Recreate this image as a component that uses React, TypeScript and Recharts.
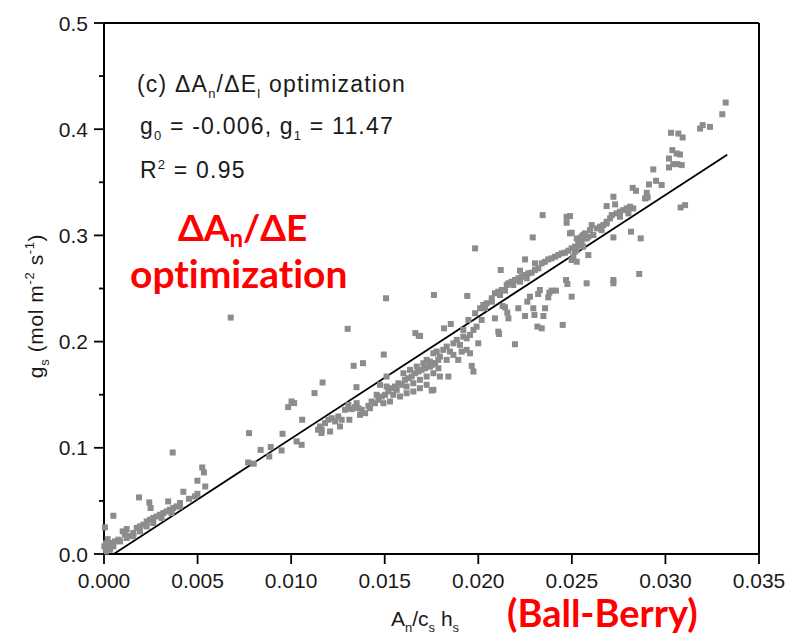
import React from 'react';
import { ScatterChart, Scatter, XAxis, YAxis, ReferenceLine } from 'recharts';

// axis ticks
const xTicks = [0, 0.005, 0.01, 0.015, 0.02, 0.025, 0.03, 0.035];
const yTicks = [0, 0.05, 0.1, 0.15, 0.2, 0.25, 0.3, 0.35, 0.4, 0.45, 0.5];

// fitted line gs = g0 + g1 * An/(cs hs)
const G0 = -0.006;
const G1 = 11.47;
const FIT_X_END = 0.0333;

const lowBand: [number, number][] = [
  [0.00023, 0.0072], [0.00041, 0.0104], [0.00059, 0.0119], [0.00077, 0.0135], [0.001, 0.0213],
  [0.00121, 0.0235], [0.00112, 0.0182], [0.00139, 0.0172], [0.00157, 0.0198], [0.00175, 0.0245],
  [0.00192, 0.026], [0.0021, 0.0276], [0.00228, 0.0307], [0.00246, 0.0323], [0.00263, 0.0339],
  [0.00281, 0.0354], [0.00299, 0.037], [0.00317, 0.0386], [0.00335, 0.0401], [0.00352, 0.0417],
  [0.0037, 0.0433], [0.00388, 0.0448], [0.00406, 0.0448], [0.00361, 0.0386], [0.00308, 0.0339],
  [0.00263, 0.0292], [0.00228, 0.026], [0.00192, 0.0213], [0.00157, 0.0166], [0.00121, 0.0151],
  [0.00086, 0.0119], [0.0005, 0.0072], [0.00032, 0.004], [0.00011, 0.0024], [0.00002, 0.0072],
  [0.0002, 0.014], [0.0001, 0.01],
];

const lowScatter: [number, number][] = [
  [0.00775, 0.1138], [0.00837, 0.098], [0.00891, 0.1007], [0.00883, 0.0918], [0.0077, 0.0862],
  [0.008, 0.085], [0.00367, 0.0956], [0.00525, 0.0815], [0.00534, 0.0768], [0.00499, 0.069],
  [0.00541, 0.0636], [0.00424, 0.0586], [0.00454, 0.052], [0.00486, 0.0542], [0.00499, 0.0567],
  [0.00187, 0.0533], [0.00242, 0.0486], [0.00249, 0.0433], [0.00343, 0.0495], [0.00406, 0.048],
  [0.0005, 0.036], [0.00005, 0.025],
];

const midScatter: [number, number][] = [
  [0.01302, 0.212], [0.01664, 0.208], [0.01682, 0.2054], [0.01495, 0.1878], [0.01334, 0.1772],
  [0.01384, 0.1797], [0.01168, 0.1615], [0.01125, 0.1515], [0.01349, 0.1571], [0.01002, 0.1436],
  [0.00984, 0.1383], [0.01016, 0.1421], [0.01059, 0.1264], [0.00954, 0.1132], [0.00949, 0.0975],
  [0.01029, 0.106], [0.01056, 0.1028], [0.01144, 0.117], [0.01162, 0.1139], [0.00677, 0.2226],
  [0.01507, 0.2408], [0.01751, 0.1539],
];

const midBand: [number, number][] = [
  [0.01154, 0.1201], [0.01181, 0.1232], [0.01199, 0.1264], [0.01217, 0.1279], [0.01235, 0.1248],
  [0.01252, 0.1295], [0.0127, 0.1264], [0.01288, 0.1358], [0.01306, 0.1373], [0.01324, 0.1364],
  [0.01341, 0.1383], [0.01359, 0.1373], [0.01377, 0.1358], [0.01395, 0.1326], [0.01413, 0.1395],
  [0.0143, 0.1436], [0.01448, 0.142], [0.01466, 0.1452], [0.01484, 0.1483], [0.01502, 0.1499],
  [0.01519, 0.153], [0.01537, 0.1561], [0.01555, 0.1577], [0.01573, 0.1608], [0.01591, 0.1593],
  [0.01608, 0.164], [0.01626, 0.1655], [0.01644, 0.1671], [0.01662, 0.1702], [0.0168, 0.1718],
  [0.01697, 0.1734], [0.01715, 0.1749], [0.01733, 0.1765], [0.01751, 0.1781], [0.01769, 0.1796],
  [0.01786, 0.1828], [0.01457, 0.1499], [0.0151, 0.1577], [0.01564, 0.1546], [0.01617, 0.1577],
  [0.01653, 0.1608], [0.01688, 0.164], [0.01724, 0.1671], [0.0176, 0.1702], [0.016, 0.1702],
  [0.01635, 0.1734], [0.01671, 0.1765], [0.01706, 0.1796], [0.01742, 0.1812], [0.01582, 0.1483],
  [0.01617, 0.1514], [0.01653, 0.153], [0.01688, 0.1561], [0.01724, 0.1593], [0.0176, 0.1546],
  [0.01528, 0.1436], [0.01493, 0.142], [0.01421, 0.1373], [0.01368, 0.131], [0.01311, 0.1264],
  [0.01261, 0.1201], [0.01208, 0.1154], [0.01163, 0.117], [0.01306, 0.1405], [0.0135, 0.142],
  [0.0151, 0.1671], [0.01546, 0.1499], [0.01475, 0.1593],
];

const upperScatter: [number, number][] = [
  [0.02472, 0.3119], [0.02291, 0.2981], [0.02499, 0.3025], [0.01983, 0.2878], [0.0225, 0.2774],
  [0.02303, 0.2737], [0.0212, 0.2674], [0.02223, 0.2668], [0.01763, 0.2439], [0.01941, 0.243],
  [0.02579, 0.2549], [0.02499, 0.2423], [0.02469, 0.258], [0.02476, 0.2542], [0.02415, 0.248],
  [0.02451, 0.2157], [0.02339, 0.2125], [0.02316, 0.2141], [0.02196, 0.1975], [0.02107, 0.2094],
  [0.02111, 0.2072], [0.01965, 0.1771], [0.01974, 0.1718], [0.0184, 0.1671], [0.01817, 0.2125],
  [0.01853, 0.2166], [0.01689, 0.2053], [0.02089, 0.2219], [0.02161, 0.2219], [0.02155, 0.2273],
  [0.0225, 0.2241], [0.023, 0.2251], [0.02348, 0.2241], [0.02357, 0.2314], [0.02294, 0.2314],
  [0.02214, 0.2314], [0.02262, 0.2376], [0.02276, 0.2423], [0.0232, 0.2448], [0.02329, 0.2486],
  [0.02374, 0.2417], [0.0238, 0.2461], [0.02392, 0.248], [0.02143, 0.2323], [0.0213, 0.2335],
  [0.02, 0.1984], [0.01956, 0.189], [0.01938, 0.1922], [0.0192, 0.211], [0.01983, 0.2267],
  [0.0201, 0.2314], [0.01947, 0.2204], [0.02344, 0.3191], [0.02472, 0.3175],
];

const upperBand: [number, number][] = [
  [0.01724, 0.1828], [0.01742, 0.1765], [0.0176, 0.189], [0.01778, 0.1906], [0.01795, 0.1859],
  [0.01813, 0.1922], [0.01831, 0.1953], [0.01849, 0.1906], [0.01867, 0.1984], [0.01885, 0.2016],
  [0.01902, 0.1969], [0.0192, 0.2047], [0.01938, 0.2031], [0.01956, 0.2063], [0.01974, 0.211],
  [0.01991, 0.2141], [0.02018, 0.2204], [0.02027, 0.2345], [0.02045, 0.2361], [0.02072, 0.2408],
  [0.02089, 0.2455], [0.02107, 0.247], [0.02125, 0.2486], [0.02143, 0.248], [0.02161, 0.2549],
  [0.02178, 0.2564], [0.02196, 0.258], [0.02214, 0.2596], [0.02232, 0.2611], [0.0225, 0.2627],
  [0.02267, 0.2643], [0.02285, 0.2649], [0.02303, 0.2674], [0.02321, 0.269], [0.02339, 0.2737],
  [0.02356, 0.2752], [0.02374, 0.2774], [0.02392, 0.2784], [0.0241, 0.2799], [0.02428, 0.2815],
  [0.02446, 0.2831], [0.02463, 0.2837], [0.02481, 0.2856], [0.02499, 0.2878], [0.02517, 0.2894],
  [0.02535, 0.2919], [0.02552, 0.2941], [0.0257, 0.2972], [0.02588, 0.2988], [0.02561, 0.3003],
  [0.02526, 0.2972], [0.02152, 0.2533], [0.02187, 0.2533], [0.02223, 0.2564], [0.02259, 0.2596],
  [0.02116, 0.2439], [0.02072, 0.2376], [0.02036, 0.2314], [0.0176, 0.1796], [0.01787, 0.1749],
  [0.01831, 0.1828], [0.01867, 0.1875], [0.01911, 0.1906], [0.01893, 0.1828], [0.01795, 0.1671],
];

const topScatter: [number, number][] = [
  [0.03322, 0.4251], [0.03304, 0.4141], [0.03199, 0.4038], [0.03185, 0.4006], [0.03238, 0.4022],
  [0.0303, 0.3966], [0.03069, 0.3959], [0.03092, 0.3922], [0.03037, 0.3803], [0.0306, 0.3771],
  [0.03078, 0.3762], [0.03019, 0.3724], [0.03019, 0.364], [0.03042, 0.3671], [0.03064, 0.3671],
  [0.03087, 0.3662], [0.02935, 0.3621], [0.0295, 0.3514], [0.0298, 0.3474], [0.02912, 0.348],
  [0.029, 0.3401], [0.02905, 0.3357], [0.02891, 0.3348], [0.02825, 0.3448], [0.02843, 0.342],
  [0.02722, 0.3364], [0.02686, 0.3276], [0.02731, 0.3292], [0.03081, 0.3263], [0.03105, 0.3285],
  [0.02816, 0.3035], [0.02868, 0.2972], [0.02722, 0.2981], [0.0286, 0.2637], [0.02722, 0.258],
  [0.02722, 0.2549], [0.0249, 0.3182], [0.02588, 0.2815],
];

const topBand: [number, number][] = [
  [0.02508, 0.28], [0.02526, 0.2862], [0.02535, 0.2925], [0.02552, 0.2988], [0.0257, 0.3019],
  [0.02597, 0.305], [0.02606, 0.3097], [0.02633, 0.3066], [0.0265, 0.3082], [0.02668, 0.3097],
  [0.02686, 0.3129], [0.02704, 0.316], [0.02713, 0.3191], [0.02739, 0.3207], [0.02757, 0.3223],
  [0.02775, 0.3238], [0.02793, 0.3254], [0.02811, 0.327], [0.02828, 0.3254], [0.02802, 0.3207],
  [0.02757, 0.3176], [0.02686, 0.3113], [0.02659, 0.305], [0.02615, 0.3003], [0.02579, 0.2972],
  [0.02544, 0.2909], [0.02517, 0.2847], [0.02499, 0.2768], [0.02526, 0.2752], [0.02561, 0.2894],
  [0.0249, 0.3019],
];

const points = [
  ...lowBand, ...lowScatter, ...midScatter, ...midBand,
  ...upperScatter, ...upperBand, ...topScatter, ...topBand,
].map(([x, y]) => ({ x, y }));

const FONT = '"Liberation Sans", Arial, sans-serif';
const RED_FONT = 'Lato, "Open Sans", sans-serif';
const TICK_SIZE = 10;
const TICK_MARGIN = 6;

const Square = (props: any) => {
  const { cx, cy } = props;
  return <rect x={cx - 3} y={cy - 3} width={6} height={6} fill="#8c8c8c" />;
};

// frame axes (top / right) carry ticks only
const NoLabel = () => <g />;

// left axis: long ticks with labels at 0.1, short ticks at 0.05
const LeftTick = (props: any) => {
  const { x, y, payload } = props;
  const ax = x + TICK_SIZE + TICK_MARGIN;
  const major = Math.round(payload.value * 100) % 10 === 0;
  return (
    <g>
      <line x1={ax} x2={ax - (major ? 10 : 5)} y1={y} y2={y} stroke="#000" strokeWidth={1.8} />
      {major && (
        <text x={x} y={y} dy="0.36em" textAnchor="end" fontSize={21} fontFamily={FONT} fill="#1a1a1a">
          {payload.value.toFixed(1)}
        </text>
      )}
    </g>
  );
};

// text runs: [text, baseline offset, font size]; offset > 0 = subscript, < 0 = superscript
type Run = [string, number?, number?];
const Rich = ({ runs }: { runs: Run[] }) => {
  let cur = 0;
  return (
    <>
      {runs.map(([t, off = 0, size], i) => {
        const dy = off - cur;
        cur = off;
        return <tspan key={i} dy={dy || undefined} fontSize={size}>{t}</tspan>;
      })}
    </>
  );
};

export default function App() {
  const yFitEnd = G0 + G1 * FIT_X_END;
  return (
    <div style={{ position: 'absolute', left: 0, top: 0, width: 786, height: 637, background: '#fff' }}>
      <ScatterChart width={786} height={637} margin={{ top: 22, right: 26, bottom: 43, left: 40 }}>
        <XAxis
          xAxisId="x" dataKey="x" type="number" domain={[0, 0.035]} ticks={xTicks} interval={0}
          tickFormatter={(v: number) => v.toFixed(3)} height={40}
          tickSize={TICK_SIZE} tickMargin={9}
          axisLine={{ stroke: '#000', strokeWidth: 2 }} tickLine={{ stroke: '#000', strokeWidth: 1.8 }}
          tick={{ fontSize: 21, fontFamily: FONT, fill: '#1a1a1a' }}
        />
        <XAxis
          xAxisId="top" orientation="top" type="number" domain={[0, 0.035]} ticks={xTicks} interval={0}
          tick={<NoLabel />} height={1} tickSize={10}
          axisLine={{ stroke: '#000', strokeWidth: 2 }} tickLine={{ stroke: '#000', strokeWidth: 1.8 }}
        />
        <YAxis
          yAxisId="y" dataKey="y" type="number" domain={[0, 0.5]} ticks={yTicks} interval={0}
          width={64} tickSize={TICK_SIZE} tickMargin={TICK_MARGIN} tickLine={false}
          axisLine={{ stroke: '#000', strokeWidth: 2 }} tick={<LeftTick />}
        />
        <YAxis
          yAxisId="right" orientation="right" type="number" domain={[0, 0.5]} ticks={yTicks} interval={0}
          tick={<NoLabel />} width={1} tickSize={11}
          axisLine={{ stroke: '#000', strokeWidth: 2 }} tickLine={{ stroke: '#000', strokeWidth: 1.8 }}
        />
        <ReferenceLine
          xAxisId="x" yAxisId="y"
          segment={[{ x: -G0 / G1, y: 0 }, { x: FIT_X_END, y: yFitEnd }]}
          stroke="#000" strokeWidth={1.8}
        />
        <Scatter xAxisId="x" yAxisId="y" data={points} shape={<Square />} isAnimationActive={false} />
      </ScatterChart>

      <svg width={786} height={637} style={{ position: 'absolute', left: 0, top: 0, pointerEvents: 'none' }}>
        <g fontFamily={FONT} fontSize={23} fill="#1a1a1a" letterSpacing={1.2}>
          <text x={137} y={92}>
            <Rich runs={[['(c) ΔA'], ['n', 6, 13], ['/ΔE'], ['l', 6, 13], [' optimization']]} />
          </text>
          <text x={140} y={134}>
            <Rich runs={[['g'], ['0', 6, 13], [' = -0.006, g'], ['1', 6, 13], [' = 11.47']]} />
          </text>
          <text x={140} y={178}>
            <Rich runs={[['R'], ['2', -9, 13], [' = 0.95']]} />
          </text>
        </g>
        <text x={391} y={626} fontFamily={FONT} fontSize={21} fill="#1a1a1a">
          <Rich runs={[['A'], ['n', 6, 13], ['/c'], ['s', 6, 13], [' h'], ['s', 6, 13]]} />
        </text>
        <text
          transform="translate(43 306) rotate(-90)" textAnchor="middle"
          fontFamily={FONT} fontSize={21} fill="#1a1a1a" letterSpacing={0.6}
        >
          <Rich runs={[['g'], ['s', 6, 13], [' (mol m'], ['-2', -9, 13], [' s'], ['-1', -9, 13], [')']]} />
        </text>

        <g fontFamily={RED_FONT} fontWeight={700} fill="#ff0000" style={{ fontVariantLigatures: 'none' }}>
          <text x={178} y={241} fontSize={37}>
            <Rich runs={[['ΔA'], ['n', 6, 24], ['/ΔE']]} />
          </text>
          <text x={130} y={288} fontSize={39}>optimization</text>
          <text x={507} y={627} fontSize={38}>(Ball-Berry)</text>
          <text x={507} y={-9} fontSize={38}>(Ball-Berry)</text>
        </g>
      </svg>
    </div>
  );
}
